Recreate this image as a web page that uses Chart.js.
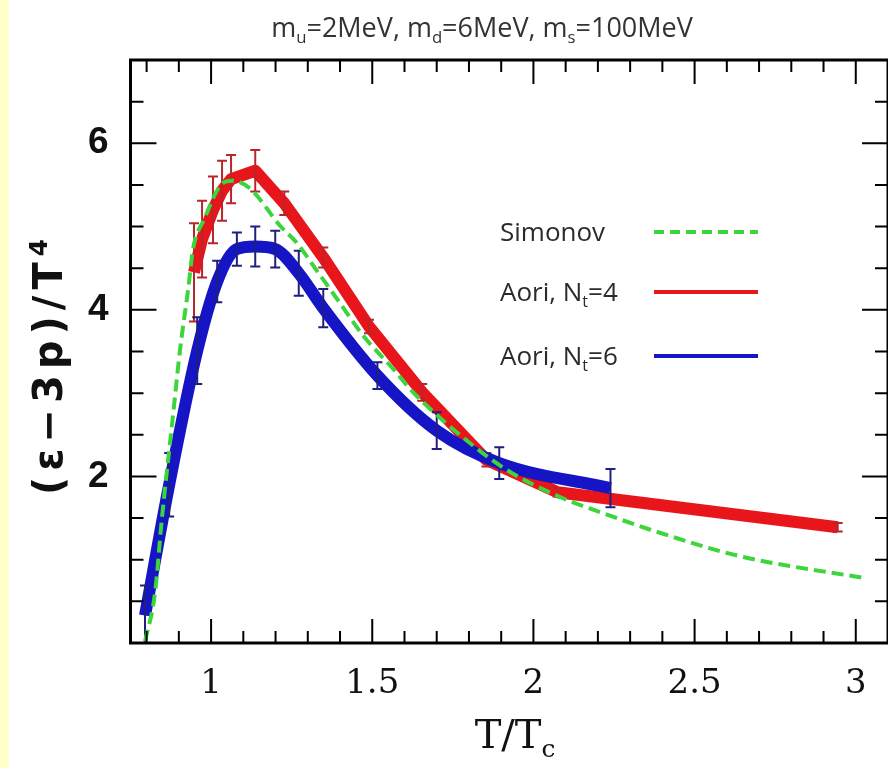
<!DOCTYPE html>
<html>
<head>
<meta charset="utf-8">
<script src="https://cdn.jsdelivr.net/npm/chart.js@4.4.1/dist/chart.umd.min.js"></script>
<style>
  html, body { margin: 0; padding: 0; background: #fff; }
</style>
</head>
<body>
<canvas id="chart" width="888" height="768"></canvas>
<script>
// values: T/Tc and (e-3p)/T^4 with error bars
const nt4T   = [0.947, 0.972, 1.006, 1.034, 1.062, 1.137, 1.227, 1.348, 1.49, 1.655, 1.854, 2.075, 2.944];
const nt4Val = [4.45, 4.85, 5.20, 5.43, 5.57, 5.67, 5.28, 4.63, 3.80, 3.01, 2.20, 1.81, 1.39];
const nt4Err = [0.59, 0.46, 0.40, 0.36, 0.29, 0.25, 0.14, 0.12, 0.08, 0.10, 0.08, 0.05, 0.05];

const nt6T   = [0.795, 0.870, 0.957, 1.019, 1.080, 1.137, 1.199, 1.272, 1.348, 1.516, 1.700, 1.894, 2.239];
const nt6Val = [0.33, 1.90, 3.51, 4.34, 4.73, 4.76, 4.73, 4.44, 4.02, 3.21, 2.55, 2.16, 1.86];
const nt6Err = [0.36, 0.38, 0.40, 0.25, 0.20, 0.24, 0.22, 0.27, 0.23, 0.16, 0.22, 0.19, 0.23];

const simT   = [0.795, 0.826, 0.848, 0.879, 0.904, 0.929, 0.944, 0.98, 1.028, 1.065, 1.12, 1.214, 1.267, 1.317, 1.391, 1.472, 1.565, 1.627, 1.826, 1.929, 2.084, 2.208, 2.363, 2.643, 3.025];
const simVal = [0.02, 0.60, 1.52, 2.63, 3.53, 4.25, 4.73, 5.10, 5.49, 5.55, 5.46, 5.01, 4.80, 4.53, 4.13, 3.69, 3.29, 3.01, 2.33, 2.05, 1.75, 1.57, 1.36, 1.04, 0.78];

const xTickLabels = [1, 1.5, 2, 2.5, 3];
const yTickLabels = [2, 4, 6];

// text pieces: [text, shift] where shift 1 = subscript, -1 = superscript
const titleParts = [["m", 0], ["u", 1], ["=2MeV, m", 0], ["d", 1], ["=6MeV, m", 0], ["s", 1], ["=100MeV", 0]];
const yTitleParts = [["(\u03b5\u22123p)/T", 0], ["4", -1]];
const xTitleParts = [["T/T", 0], ["c", 1]];
const legendParts = [
  [["Simonov", 0]],
  [["Aori, N", 0], ["t", 1], ["=4", 0]],
  [["Aori, N", 0], ["t", 1], ["=6", 0]],
];

const RED = "#e8161b", BLUE = "#1515c6", GREEN = "#3cd63c";

const pts = (xs, ys) => xs.map((x, i) => ({ x, y: ys[i] }));

function partsWidth(ctx, parts, size, fam, weight) {
  let w = 0;
  parts.forEach(([t, s]) => {
    ctx.font = `${weight} ${s ? size * 0.62 : size}px ${fam}`;
    w += ctx.measureText(t).width;
  });
  return w;
}

function drawParts(ctx, parts, x, y, size, fam, weight, align) {
  let cx = x;
  if (align === "center") cx -= partsWidth(ctx, parts, size, fam, weight) / 2;
  ctx.textAlign = "left";
  parts.forEach(([t, s]) => {
    const fs = s ? size * 0.62 : size;
    ctx.font = `${weight} ${fs}px ${fam}`;
    const dy = s === 1 ? size * 0.22 : s === -1 ? -size * 0.38 : 0;
    ctx.fillText(t, cx, y + dy);
    cx += ctx.measureText(t).width;
  });
}

const errorBars = {
  id: "errorBars",
  afterDatasetDraw(chart, args) {
    const ds = chart.data.datasets[args.index];
    if (!ds.errors) return;
    const { ctx, chartArea: a, scales: { x, y } } = chart;
    ctx.save();
    ctx.beginPath();
    ctx.rect(a.left, a.top, a.width, a.height);
    ctx.clip();
    ctx.strokeStyle = ds.errorColor;
    ctx.lineWidth = 2;
    ds.data.forEach((p, i) => {
      const px = x.getPixelForValue(p.x);
      const top = y.getPixelForValue(p.y + ds.errors[i]);
      const bot = y.getPixelForValue(p.y - ds.errors[i]);
      ctx.beginPath();
      ctx.moveTo(px, top); ctx.lineTo(px, bot);
      ctx.moveTo(px - 5, top); ctx.lineTo(px + 5, top);
      ctx.moveTo(px - 5, bot); ctx.lineTo(px + 5, bot);
      ctx.stroke();
    });
    ctx.restore();
  }
};

const decor = {
  id: "decor",
  beforeDraw(chart) {
    const { ctx, width, height } = chart;
    ctx.save();
    ctx.fillStyle = "#fff";
    ctx.fillRect(0, 0, width, height);
    ctx.fillStyle = "#ffffc8";
    ctx.fillRect(0, 0, 9, height);
    ctx.restore();
  },
  afterDraw(chart) {
    const { ctx, chartArea: a, scales: { x, y } } = chart;
    ctx.save();
    // ticks on all four sides, pointing inwards
    ctx.strokeStyle = "#000";
    ctx.lineWidth = 2;
    ctx.beginPath();
    for (let i = 8; i <= 31; i++) {
      const px = x.getPixelForValue(i / 10);
      const len = i % 5 === 0 ? 24 : 12;
      ctx.moveTo(px, a.bottom); ctx.lineTo(px, a.bottom - len);
      ctx.moveTo(px, a.top); ctx.lineTo(px, a.top + len);
    }
    for (let i = 1; i <= 13; i++) {
      const py = y.getPixelForValue(i / 2);
      const len = i % 4 === 0 ? 26 : 13;
      ctx.moveTo(a.left, py); ctx.lineTo(a.left + len, py);
      ctx.moveTo(a.right, py); ctx.lineTo(a.right - len, py);
    }
    ctx.stroke();
    ctx.lineWidth = 3;
    ctx.strokeRect(a.left, a.top, a.width, a.height);

    // title
    ctx.fillStyle = "#333";
    ctx.textBaseline = "alphabetic";
    drawParts(ctx, titleParts, 482, 37, 27, "'Open Sans'", "normal", "center");

    // axis titles
    ctx.fillStyle = "#111";
    drawParts(ctx, xTitleParts, 515, 748, 40, "'DejaVu Serif'", "normal", "center");
    ctx.save();
    ctx.translate(62, 364);
    ctx.rotate(-Math.PI / 2);
    ctx.letterSpacing = "6px";
    drawParts(ctx, yTitleParts, 0, 0, 40, "'DejaVu Sans'", "bold", "center");
    ctx.restore();

    // legend
    const rows = [
      { color: GREEN, dash: [10, 6], y: 232 },
      { color: RED, dash: [], y: 292 },
      { color: BLUE, dash: [], y: 356 },
    ];
    ctx.fillStyle = "#2b2b2b";
    rows.forEach((r, i) => {
      drawParts(ctx, legendParts[i], 500, r.y + 9, 26, "'Open Sans'", "normal", "left");
      ctx.strokeStyle = r.color;
      ctx.lineWidth = 4;
      ctx.setLineDash(r.dash);
      ctx.beginPath();
      ctx.moveTo(654, r.y);
      ctx.lineTo(758, r.y);
      ctx.stroke();
    });
    ctx.setLineDash([]);
    ctx.restore();
  }
};

new Chart(document.getElementById("chart"), {
  type: "line",
  data: {
    datasets: [
      {
        label: "Simonov",
        data: pts(simT, simVal),
        borderColor: GREEN,
        borderWidth: 4,
        borderDash: [12, 6],
        cubicInterpolationMode: "monotone",
        pointRadius: 0,
        order: 0,
      },
      {
        label: "Aori, Nt=6",
        data: pts(nt6T, nt6Val),
        borderColor: BLUE,
        borderWidth: 12,
        borderJoinStyle: "round",
        cubicInterpolationMode: "monotone",
        pointRadius: 0,
        order: 1,
        errors: nt6Err,
        errorColor: "#1f1f80",
      },
      {
        label: "Aori, Nt=4",
        data: pts(nt4T, nt4Val),
        borderColor: RED,
        borderWidth: 12,
        borderJoinStyle: "round",
        tension: 0,
        pointRadius: 0,
        order: 2,
        errors: nt4Err,
        errorColor: "#b8262b",
      },
    ],
  },
  options: {
    responsive: false,
    animation: false,
    layout: { padding: { top: 60, right: 0, left: 0, bottom: 0 } },
    plugins: {
      legend: { display: false },
      tooltip: { enabled: false },
    },
    scales: {
      x: {
        type: "linear",
        min: 0.75,
        max: 3.1,
        afterBuildTicks: (s) => { s.ticks = xTickLabels.map((v) => ({ value: v })); },
        afterFit: (s) => { s.height = 125; },
        grid: { display: false, drawTicks: false },
        border: { display: false },
        ticks: {
          autoSkip: false,
          maxRotation: 0,
          padding: 21,
          color: "#111",
          font: { family: "'DejaVu Serif'", size: 34 },
          callback: (v) => String(v),
        },
      },
      y: {
        type: "linear",
        min: 0,
        max: 7,
        afterBuildTicks: (s) => { s.ticks = yTickLabels.map((v) => ({ value: v })); },
        afterFit: (s) => { s.width = 130.5; },
        grid: { display: false, drawTicks: false },
        border: { display: false },
        ticks: {
          padding: 22,
          color: "#111",
          font: { family: "'Liberation Sans'", size: 37, weight: "bold" },
          callback: (v) => String(v),
        },
      },
    },
  },
  plugins: [errorBars, decor],
});
</script>
</body>
</html>
